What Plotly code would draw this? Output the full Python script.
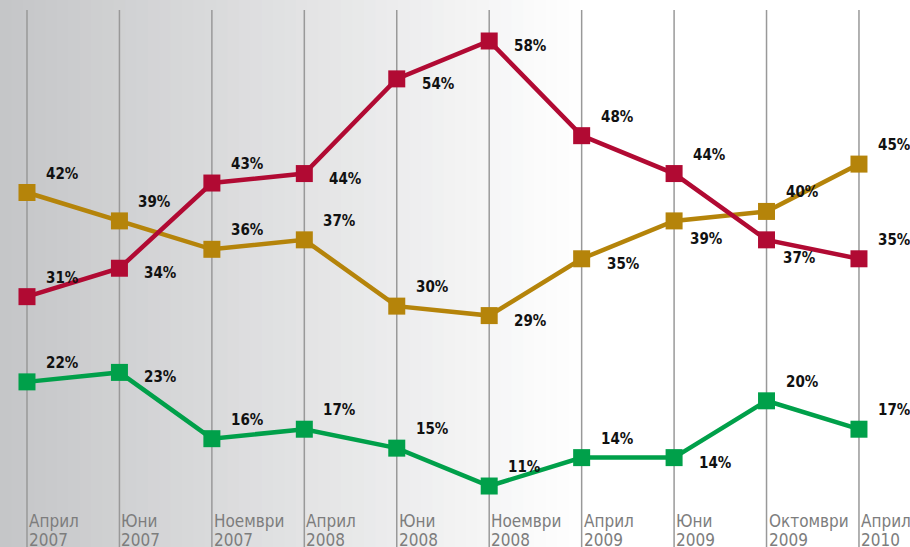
import plotly.graph_objects as go

months = ["Април", "Юни", "Ноември", "Април", "Юни", "Ноември", "Април", "Юни", "Октомври", "Април"]
years = ["2007", "2007", "2007", "2008", "2008", "2008", "2009", "2009", "2009", "2010"]

red_vals = [31, 34, 43, 44, 54, 58, 48, 44, 37, 35]
gold_vals = [42, 39, 36, 37, 30, 29, 35, 39, 40, 45]
green_vals = [22, 23, 16, 17, 15, 11, 14, 14, 20, 17]

# label placement codes: a = above-right, r = right, b = below-right
red_pos = ["a", "r", "a", "r", "r", "r", "a", "a", "b", "a"]
gold_pos = ["a", "a", "a", "a", "a", "r", "r", "b", "a", "a"]
green_pos = ["a", "r", "a", "a", "a", "a", "a", "r", "a", "a"]

RED = "#B10A33"
GOLD = "#B5840A"
GREEN = "#00A04A"

x = list(range(len(months)))
fig = go.Figure()

# background gradient strips (paper coords)
n = 80
c0 = (196, 197, 199)
c1 = (255, 255, 255)
white_at = 0.64
for i in range(n):
    f0 = i / n
    f1 = (i + 1) / n
    t = min(1.0, (f0 + 0.5 / n) / white_at)
    col = tuple(int(round(c0[k] + (c1[k] - c0[k]) * t)) for k in range(3))
    fig.add_shape(type="rect", xref="paper", yref="paper", x0=f0, x1=f1 + 0.002, y0=0, y1=1,
                  fillcolor="rgb(%d,%d,%d)" % col, line_width=0, layer="below")

# vertical grid lines
for xi in x:
    fig.add_shape(type="line", xref="x", yref="paper", x0=xi, x1=xi, y0=0, y1=1 - 10 / 547,
                  line=dict(color="#999999", width=1.5), layer="below")

for vals, col in [(gold_vals, GOLD), (red_vals, RED), (green_vals, GREEN)]:
    fig.add_trace(go.Scatter(x=x, y=vals, mode="lines+markers",
                             line=dict(color=col, width=4.5),
                             marker=dict(symbol="square", size=17, color=col),
                             hoverinfo="skip", showlegend=False))

label_font = dict(family="DejaVu Sans Condensed, sans-serif", size=15,
                  color="#111111", weight="bold")
offs = {"a": (17, 19), "r": (23, -5), "b": (14, -18)}
for vals, poss in [(red_vals, red_pos), (gold_vals, gold_pos), (green_vals, green_pos)]:
    for xi, v, p in zip(x, vals, poss):
        dx, dy = offs[p]
        fig.add_annotation(x=xi, y=v, text="%d%%" % v, showarrow=False,
                           xanchor="left", yanchor="middle", xshift=dx, yshift=dy,
                           font=label_font)

tick_font = dict(family="DejaVu Sans Condensed, sans-serif", size=17, color="#7d7d7d")
for xi, m, yv in zip(x, months, years):
    fig.add_annotation(x=xi, y=1 - 521 / 547, xref="x", yref="paper", text=m, showarrow=False,
                       xanchor="left", yanchor="middle", xshift=0, font=tick_font)
    fig.add_annotation(x=xi, y=1 - 540 / 547, xref="x", yref="paper", text=yv, showarrow=False,
                       xanchor="left", yanchor="middle", xshift=0, font=tick_font)

fig.update_layout(
    width=910, height=547,
    margin=dict(l=0, r=0, t=0, b=0),
    paper_bgcolor="white", plot_bgcolor="rgba(0,0,0,0)",
    xaxis=dict(range=[-0.292, 9.552], visible=False, fixedrange=True),
    yaxis=dict(range=[4.56, 62.33], visible=False, fixedrange=True),
)

fig.write_html("out.html", config={"displayModeBar": False},
               post_script="document.body.style.margin='0';document.body.style.overflow='hidden';")
